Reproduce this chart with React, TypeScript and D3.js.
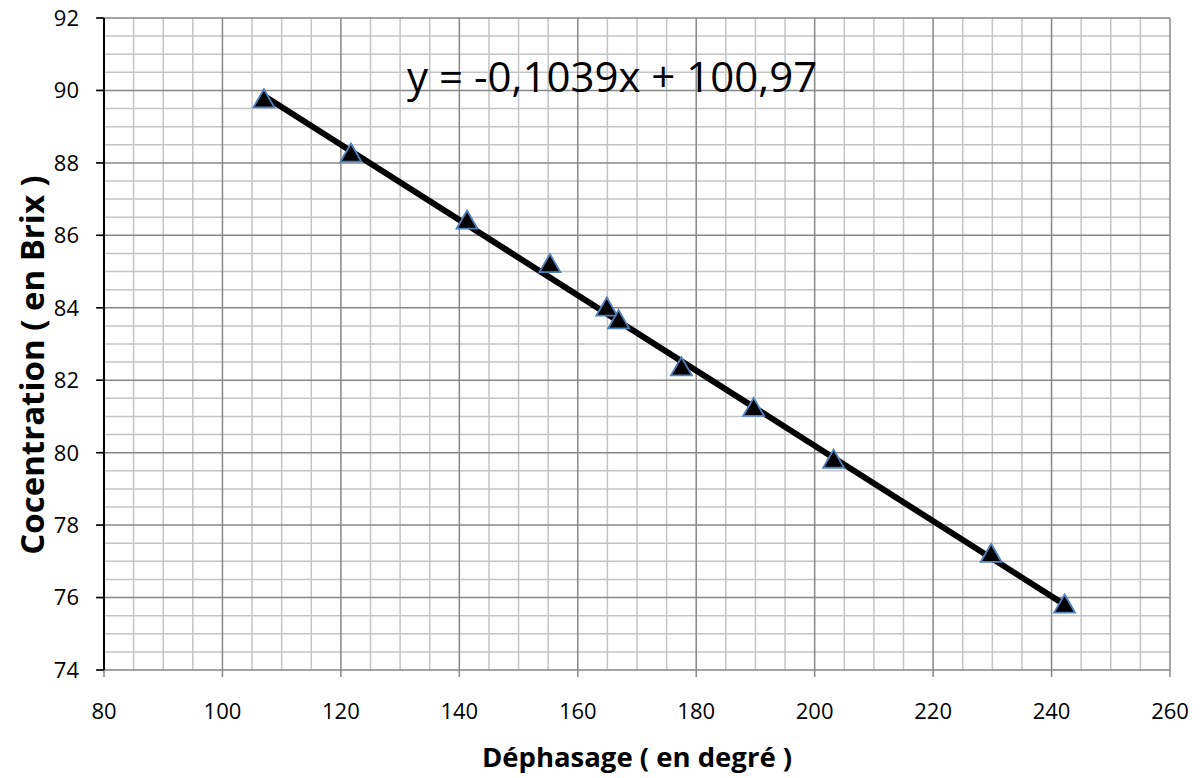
import * as d3 from "d3";
import React from "react";

const W = 1203;
const H = 778;
const margin = { top: 18, right: 33, bottom: 108, left: 104 };
const innerW = W - margin.left - margin.right;
const innerH = H - margin.top - margin.bottom;

// measured points (déphasage, concentration)
const phase = [107, 121.7, 141.3, 155.3, 164.9, 166.9, 177.5, 189.7, 203.2, 229.8, 242.2];
const brix = [89.7, 88.2, 86.35, 85.15, 83.95, 83.6, 82.3, 81.18, 79.75, 77.15, 75.75];
const xTicks = [80, 100, 120, 140, 160, 180, 200, 220, 240, 260];
const yTicks = [74, 76, 78, 80, 82, 84, 86, 88, 90, 92];
const slope = -0.1039;
const intercept = 100.97;

const font = "'Open Sans', sans-serif";

export default function App() {
  const x = d3.scaleLinear().domain([80, 260]).range([0, innerW]);
  const y = d3.scaleLinear().domain([74, 92]).range([innerH, 0]);

  const xMinor = d3.range(80, 260.1, 5).filter((v) => v % 20 !== 0);
  const yMinor = d3.range(74, 92.01, 0.5).filter((v) => v % 2 !== 0);

  const x0 = d3.min(phase)!;
  const x1 = d3.max(phase)!;
  const trend = d3.line<number>()
    .x((d) => x(d))
    .y((d) => y(slope * d + intercept))([x0, x1]);

  const tri = d3.symbol().type(d3.symbolTriangle).size(190)();

  return (
    <svg width={W} height={H} style={{ position: "absolute", left: 0, top: 0, background: "#fff" }}>
      <g transform={`translate(${margin.left},${margin.top})`}>
        {/* minor grid */}
        {xMinor.map((v) => (
          <line key={"xm" + v} x1={x(v)} x2={x(v)} y1={0} y2={innerH} stroke="#c4c4c4" strokeWidth={1.5} />
        ))}
        {yMinor.map((v) => (
          <line key={"ym" + v} x1={0} x2={innerW} y1={y(v)} y2={y(v)} stroke="#c4c4c4" strokeWidth={1.5} />
        ))}
        {/* major grid */}
        {xTicks.map((v) => (
          <line key={"xM" + v} x1={x(v)} x2={x(v)} y1={0} y2={innerH + 7} stroke="#878787" strokeWidth={1.5} />
        ))}
        {yTicks.map((v) => (
          <line key={"yM" + v} x1={-7} x2={innerW} y1={y(v)} y2={y(v)} stroke="#878787" strokeWidth={1.5} />
        ))}
        {yTicks.map((v) => (
          <line key={"yt" + v} x1={-8} x2={0} y1={y(v)} y2={y(v)} stroke="#000" strokeWidth={1.5} />
        ))}
        <line x1={0} x2={0} y1={0} y2={innerH} stroke="#000" strokeWidth={2} />

        {/* tick labels */}
        {xTicks.map((v) => (
          <text key={"xl" + v} x={x(v)} y={innerH + 49} textAnchor="middle" fontFamily={font} fontSize={22}>
            {v}
          </text>
        ))}
        {yTicks.map((v) => (
          <text key={"yl" + v} x={-25} y={y(v)} dy="0.36em" textAnchor="end" fontFamily={font} fontSize={22}>
            {v}
          </text>
        ))}

        {/* trend line */}
        <path d={trend ?? ""} fill="none" stroke="#000" strokeWidth={6} />

        {/* points */}
        {phase.map((p, i) => (
          <path
            key={"pt" + i}
            d={tri ?? ""}
            transform={`translate(${x(p)},${y(brix[i])})`}
            fill="#000"
            stroke="#4f81bd"
            strokeWidth={1.8}
          />
        ))}

        <text x={x(130) + 7} y={74} fontFamily={font} fontSize={42}>
          y = -0,1039x + 100,97
        </text>
      </g>

      <text x={margin.left + innerW / 2} y={767} textAnchor="middle" fontFamily={font} fontSize={27.5} fontWeight="bold">
        Déphasage ( en degré )
      </text>
      <text
        transform={`translate(44,365) rotate(-90)`}
        textAnchor="middle"
        fontFamily={font}
        fontSize={33}
        fontWeight="bold"
      >
        Cocentration ( en Brix )
      </text>
    </svg>
  );
}
